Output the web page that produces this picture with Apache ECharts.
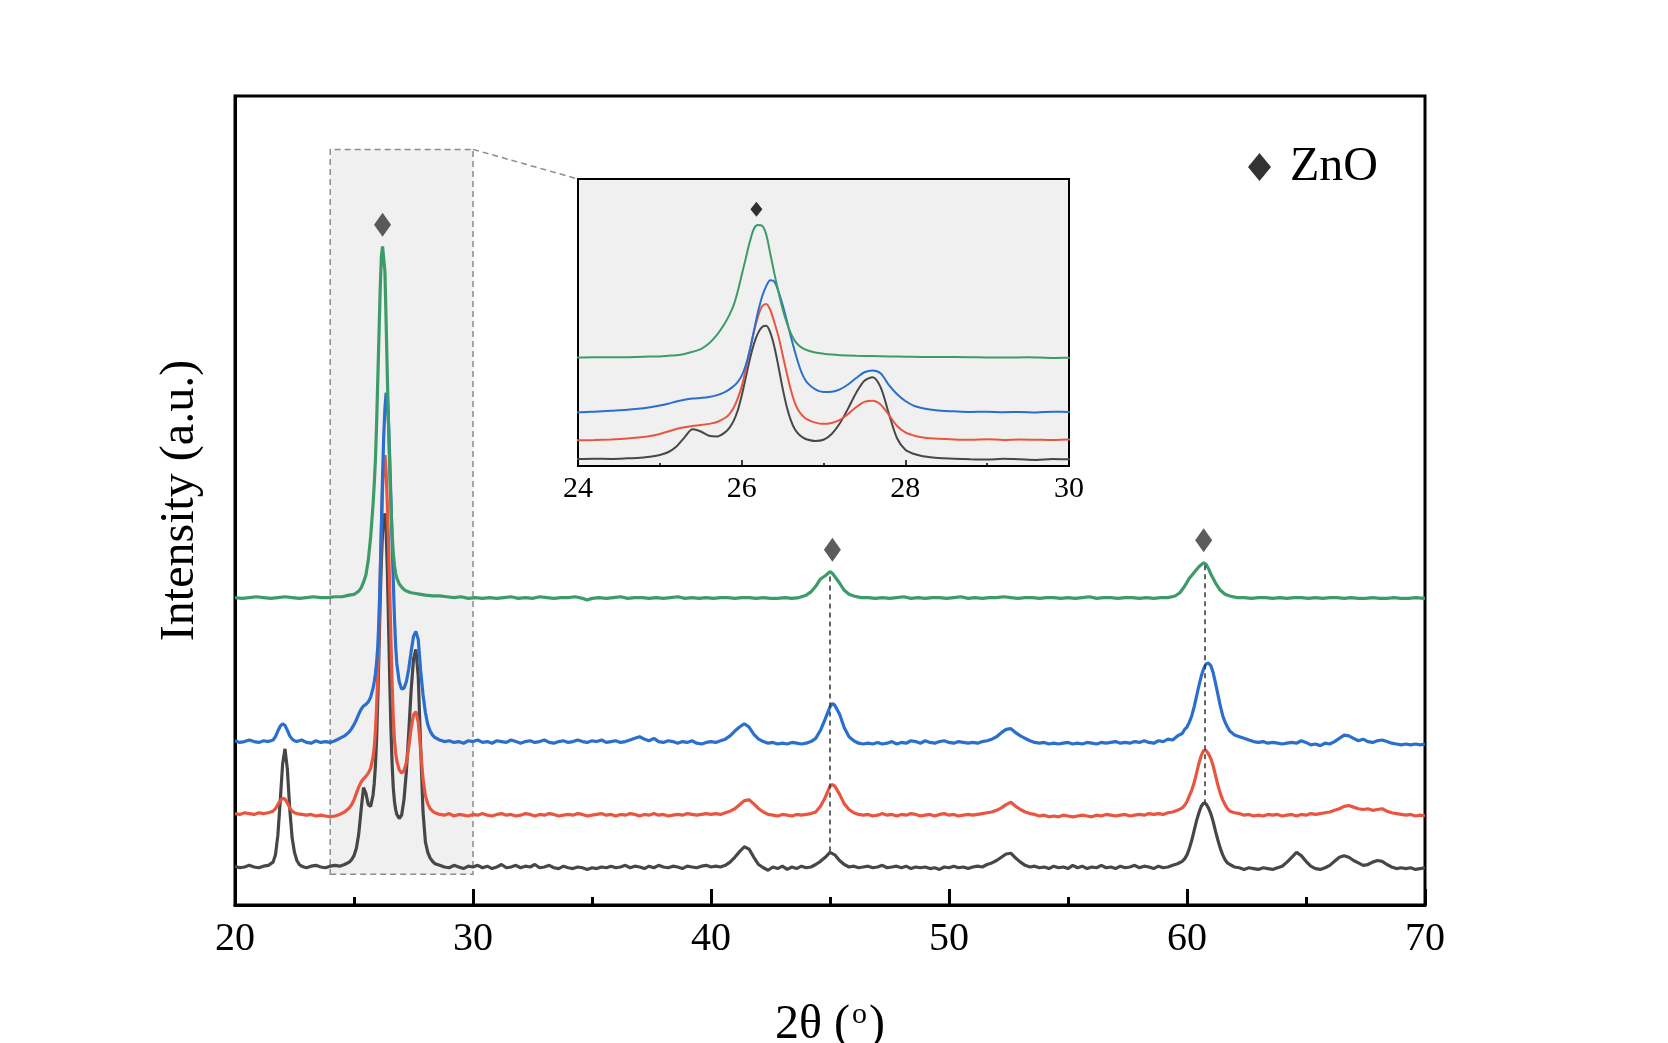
<!DOCTYPE html>
<html><head><meta charset="utf-8">
<script src="https://cdn.jsdelivr.net/npm/echarts@6/dist/echarts.min.js"></script>
<style>html,body{margin:0;padding:0;background:#fff}#c{width:1668px;height:1043px}</style>
</head><body><div id="c"></div>
<script>
// ---------- data (2θ in degrees, intensity in arbitrary units incl. stacking offset) ----------
const xTicks = [20, 30, 40, 50, 60, 70];
const insetTicks = [24, 26, 28, 30];
const boxX = [24, 30];
const boxY = [3.8, 93.4];
const insetY = [2.5, 96.5];
const znoMain = [[26.2, 84.1], [45.1, 43.9], [60.7, 45.1]];
const znoInset = [[26.18, 86.6]];
const guideX = [45.0, 60.75];
const guideTop = [40.6, 42.0];
const guideBottom = [6.4, 12.6];

const green = [[20.0,38.0],[20.3,37.9],[20.6,38.0],[20.9,38.1],[21.2,38.0],[21.5,37.9],[21.8,38.0],[22.1,38.1],[22.4,38.0],[22.7,37.9],[23.0,38.0],[23.3,38.1],[23.6,38.0],[23.9,38.0],[24.2,38.1],[24.5,38.1],[24.8,38.3],[25.0,38.4],[25.1,38.6],[25.2,38.8],[25.3,39.2],[25.4,39.9],[25.5,40.8],[25.6,42.6],[25.7,45.5],[25.8,49.5],[25.85,52.0],[25.9,55.0],[25.95,59.5],[26.0,65.0],[26.05,70.5],[26.1,76.0],[26.15,80.2],[26.2,81.4],[26.25,81.2],[26.3,78.3],[26.35,72.0],[26.4,65.5],[26.45,59.5],[26.5,54.0],[26.55,49.5],[26.6,46.0],[26.65,43.5],[26.7,42.0],[26.75,41.0],[26.8,40.4],[26.9,39.7],[27.0,39.3],[27.1,39.0],[27.2,38.8],[27.4,38.6],[27.6,38.5],[27.8,38.4],[28.0,38.3],[28.3,38.2],[28.6,38.2],[28.9,38.1],[29.2,38.0],[29.5,38.1],[29.8,37.9],[30.1,38.0],
[30.4,37.9],[30.7,38.0],[31.0,37.9],[31.3,38.0],[31.6,38.1],[31.9,37.9],[32.2,38.0],[32.5,37.9],[32.8,38.1],[33.1,38.0],[33.4,37.9],[33.7,38.0],[34.0,38.0],[34.3,38.1],[34.6,37.9],[34.8,37.7],[35.0,37.9],[35.3,38.0],[35.6,37.9],[35.9,38.0],[36.2,38.1],[36.5,37.9],[36.8,38.0],[37.1,38.0],[37.4,37.9],[37.7,38.0],[38.0,37.9],[38.3,38.0],[38.6,38.1],[38.9,37.9],[39.2,38.0],[39.5,37.9],[39.8,38.0],[40.1,37.9],[40.4,38.0],[40.7,38.0],[41.0,37.9],[41.3,38.0],[41.6,38.0],[41.9,37.9],[42.2,38.0],[42.5,37.9],[42.8,37.9],[43.1,38.0],[43.4,37.9],[43.7,38.0],[44.0,38.3],[44.2,38.7],[44.4,39.4],[44.6,40.3],[44.8,40.7],[45.0,41.2],[45.1,41.0],[45.2,40.6],[45.4,39.8],[45.6,38.9],[45.8,38.4],[46.0,38.2],[46.3,38.0],[46.6,38.0],[46.9,37.9],[47.2,38.0],[47.5,37.9],[47.8,38.0],[48.1,38.1],[48.4,37.9],[48.7,38.0],[49.0,37.9],[49.3,38.0],[49.6,38.0],[49.9,37.9],[50.2,38.0],[50.5,38.1],[50.8,37.9],[51.1,38.0],[51.4,37.9],[51.7,38.0],[52.0,38.0],[52.3,38.1],[52.6,38.0],[52.9,37.9],[53.2,38.0],[53.5,38.0],[53.8,37.9],[54.1,38.0],[54.4,38.0],[54.7,37.9],[55.0,38.0],[55.3,37.9],[55.6,38.0],[55.9,38.1],[56.2,37.9],[56.5,38.0],[56.8,38.0],[57.1,37.9],[57.4,38.0],[57.7,38.0],[58.0,37.9],[58.3,38.0],[58.6,37.9],[58.9,38.0],[59.2,38.0],[59.5,38.2],[59.7,38.6],[59.9,39.4],[60.1,40.4],[60.3,41.1],[60.5,41.8],[60.7,42.3],[60.8,42.1],[60.9,41.6],[61.0,40.9],[61.2,39.8],[61.4,38.9],[61.6,38.4],[61.8,38.2],[62.1,38.0],[62.4,38.0],[62.7,37.9],[63.0,38.0],[63.3,38.0],[63.6,37.9],[63.9,38.0],[64.2,37.9],[64.5,38.0],[64.8,38.0],[65.1,37.9],[65.4,38.0],[65.7,37.9],[66.0,38.0],[66.3,38.0],[66.6,37.9],[66.9,38.0],[67.2,37.9],[67.5,37.9],[67.8,38.0],[68.1,37.9],[68.4,37.9],[68.7,38.0],[69.0,37.9],[69.3,37.9],[69.6,38.0],[70.0,37.9]];

const blue = [[20.0,20.3],[20.2,20.1],[20.4,20.2],[20.6,20.4],[20.8,20.2],[21.0,20.1],[21.2,20.3],[21.4,20.2],[21.6,20.4],[21.7,20.8],[21.8,21.5],[21.9,22.1],[22.0,22.4],[22.1,22.2],[22.2,21.6],[22.3,20.9],[22.4,20.5],[22.5,20.3],[22.6,20.2],[22.8,20.4],[23.0,20.1],[23.2,20.0],[23.4,20.3],[23.6,20.1],[23.8,20.2],[24.0,20.1],[24.2,20.3],[24.4,20.6],[24.6,20.9],[24.8,21.4],[24.9,21.8],[25.0,22.3],[25.1,22.9],[25.2,23.6],[25.3,24.2],[25.4,24.6],[25.5,24.8],[25.6,25.1],[25.7,25.7],[25.8,26.8],[25.85,27.6],[25.9,28.6],[25.95,30.0],[26.0,32.0],[26.05,35.5],[26.1,40.5],[26.15,46.8],[26.2,53.0],[26.25,58.0],[26.3,61.4],[26.35,63.3],[26.4,62.9],[26.45,59.6],[26.5,55.3],[26.55,50.3],[26.6,45.0],[26.65,40.0],[26.7,35.5],[26.75,32.0],[26.8,29.8],[26.9,27.6],[27.0,26.7],[27.1,26.8],[27.2,27.6],[27.3,29.2],[27.4,31.3],[27.5,33.2],[27.6,33.8],[27.7,32.8],[27.8,29.0],[27.9,26.0],[28.0,23.8],[28.1,22.3],[28.2,21.5],[28.3,21.0],[28.4,20.7],
[28.6,20.4],[28.8,20.2],[29.0,20.3],[29.2,20.1],[29.4,20.2],[29.6,20.0],[29.8,20.3],[30.0,20.2],[30.2,20.4],[30.4,20.1],[30.6,20.2],[30.8,20.0],[31.0,20.3],[31.2,20.2],[31.4,20.1],[31.6,20.4],[31.8,20.2],[32.0,20.0],[32.2,20.2],[32.4,20.3],[32.6,20.1],[32.8,20.2],[33.0,20.4],[33.2,20.1],[33.4,20.0],[33.6,20.2],[33.8,20.3],[34.0,20.1],[34.2,20.2],[34.4,20.4],[34.6,20.2],[34.8,20.1],[35.0,20.3],[35.2,20.2],[35.4,20.4],[35.6,20.1],[35.8,20.2],[36.0,20.3],[36.2,20.1],[36.4,20.2],[36.6,20.4],[36.8,20.6],[37.0,20.8],[37.2,20.5],[37.4,20.3],[37.6,20.6],[37.8,20.2],[38.0,20.1],[38.2,20.3],[38.4,20.2],[38.6,20.0],[38.8,20.2],[39.0,20.1],[39.2,20.3],[39.4,20.0],[39.6,19.9],[39.8,20.1],[40.0,20.2],[40.2,20.1],[40.4,20.3],[40.6,20.5],[40.8,20.9],[41.0,21.5],[41.2,22.0],[41.4,22.4],[41.6,22.0],[41.8,21.1],[42.0,20.5],[42.2,20.2],[42.4,20.0],[42.6,20.1],[42.8,19.9],[43.0,20.0],[43.2,19.9],[43.4,20.1],[43.6,20.0],[43.8,19.9],[44.0,20.0],[44.2,20.2],[44.4,20.6],[44.6,21.6],[44.8,23.0],[45.0,24.5],[45.1,24.9],[45.2,24.7],[45.4,23.6],[45.6,21.9],[45.8,20.8],[46.0,20.3],[46.2,20.0],[46.4,19.9],[46.6,20.0],[46.8,19.9],[47.0,20.1],[47.2,19.9],[47.4,20.0],[47.6,20.2],[47.8,19.9],[48.0,20.1],[48.2,20.0],[48.4,20.3],[48.6,20.2],[48.8,20.0],[49.0,20.3],[49.2,20.1],[49.4,20.0],[49.6,20.2],[49.8,20.3],[50.0,20.1],[50.2,20.0],[50.4,20.2],[50.6,20.1],[50.8,20.0],[51.0,20.1],[51.2,20.0],[51.4,20.2],[51.6,20.3],[51.8,20.5],[52.0,20.8],[52.2,21.3],[52.4,21.7],[52.6,21.8],[52.8,21.3],[53.0,20.9],[53.2,20.6],[53.4,20.3],[53.6,20.1],[53.8,20.0],[54.0,20.1],[54.2,19.9],[54.4,20.0],[54.6,19.9],[54.8,20.0],[55.0,20.1],[55.2,19.9],[55.4,20.0],[55.6,19.9],[55.8,20.1],[56.0,20.0],[56.2,19.9],[56.4,20.1],[56.6,20.0],[56.8,20.1],[57.0,20.2],[57.2,20.0],[57.4,20.1],[57.6,20.0],[57.8,20.2],[58.0,20.1],[58.2,20.3],[58.4,20.1],[58.6,20.0],[58.8,20.3],[59.0,20.2],[59.2,20.5],[59.4,20.4],[59.6,20.9],[59.8,21.2],[59.9,21.7],[60.0,22.0],[60.1,22.6],[60.2,23.4],[60.3,24.5],[60.4,25.8],[60.5,27.1],[60.6,28.3],[60.7,29.2],[60.8,29.8],[60.9,29.9],[61.0,29.6],[61.1,28.7],[61.2,27.4],[61.3,26.0],[61.4,24.6],[61.5,23.4],[61.6,22.6],[61.7,22.0],[61.8,21.5],[62.0,21.0],[62.2,20.8],[62.4,20.6],[62.6,20.4],[62.8,20.2],[63.0,20.1],[63.2,20.2],[63.4,20.0],[63.6,20.1],[63.8,20.0],[64.0,19.9],[64.2,20.0],[64.4,20.1],[64.6,20.0],[64.8,20.3],[65.0,20.1],[65.2,19.8],[65.4,19.9],[65.6,19.7],[65.8,20.0],[66.0,19.9],[66.2,20.2],[66.4,20.6],[66.6,21.0],[66.8,20.9],[67.0,20.6],[67.2,20.3],[67.4,20.5],[67.6,20.2],[67.8,20.1],[68.0,20.3],[68.2,20.4],[68.4,20.2],[68.6,20.0],[68.8,19.9],[69.0,19.8],[69.2,19.9],[69.4,19.8],[69.6,19.9],[69.8,19.8],[70.0,19.9]];

const red = [[20.0,11.3],[20.2,11.2],[20.4,11.4],[20.6,11.3],[20.8,11.2],[21.0,11.4],[21.2,11.3],[21.4,11.4],[21.6,11.6],[21.7,11.9],[21.8,12.4],[21.9,12.9],[22.0,13.2],[22.1,13.1],[22.2,12.6],[22.3,12.0],[22.4,11.6],[22.5,11.4],[22.6,11.3],[22.8,11.2],[23.0,11.1],[23.2,11.2],[23.4,11.0],[23.6,11.1],[23.8,11.0],[24.0,10.9],[24.2,11.0],[24.4,11.2],[24.6,11.5],[24.8,12.0],[24.9,12.4],[25.0,13.0],[25.1,13.8],[25.2,14.6],[25.3,15.2],[25.4,15.6],[25.5,15.9],[25.6,16.3],[25.7,16.9],[25.8,18.3],[25.85,19.5],[25.9,21.5],[25.95,24.5],[26.0,28.5],[26.05,34.0],[26.1,40.5],[26.15,46.5],[26.2,51.5],[26.25,54.8],[26.3,55.6],[26.35,53.6],[26.4,49.5],[26.45,44.9],[26.5,39.0],[26.55,33.0],[26.6,27.5],[26.65,23.2],[26.7,20.4],[26.75,18.8],[26.8,17.8],[26.9,16.7],[27.0,16.3],[27.1,16.6],[27.2,17.6],[27.3,19.5],[27.4,21.8],[27.5,23.5],[27.6,23.9],[27.7,22.6],[27.8,19.2],[27.9,15.6],[28.0,13.5],[28.1,12.5],[28.2,11.9],[28.3,11.6],[28.4,11.4],
[28.6,11.2],[28.8,11.1],[29.0,11.3],[29.2,11.0],[29.4,11.2],[29.6,11.1],[29.8,11.0],[30.0,11.2],[30.2,11.1],[30.4,11.3],[30.6,11.1],[30.8,11.0],[31.0,11.2],[31.2,11.3],[31.4,11.1],[31.6,11.2],[31.8,11.0],[32.0,11.1],[32.2,11.3],[32.4,11.2],[32.6,11.0],[32.8,11.2],[33.0,11.1],[33.2,11.3],[33.4,11.2],[33.6,11.0],[33.8,11.1],[34.0,11.2],[34.2,11.1],[34.4,11.3],[34.6,11.2],[34.8,11.0],[35.0,11.1],[35.2,11.2],[35.4,11.3],[35.6,11.1],[35.8,11.2],[36.0,11.0],[36.2,11.2],[36.4,11.1],[36.6,11.3],[36.8,11.2],[37.0,11.0],[37.2,11.2],[37.4,11.1],[37.6,11.3],[37.8,11.1],[38.0,11.2],[38.2,11.0],[38.4,11.1],[38.6,11.2],[38.8,11.1],[39.0,11.3],[39.2,11.2],[39.4,11.1],[39.6,11.2],[39.8,11.3],[40.0,11.2],[40.2,11.3],[40.4,11.2],[40.6,11.4],[40.8,11.6],[41.0,11.9],[41.2,12.4],[41.4,12.9],[41.6,13.0],[41.8,12.5],[42.0,11.9],[42.2,11.5],[42.4,11.2],[42.6,11.1],[42.8,11.0],[43.0,11.2],[43.2,11.1],[43.4,11.0],[43.6,11.2],[43.8,11.1],[44.0,11.2],[44.2,11.3],[44.4,11.5],[44.6,12.2],[44.8,13.3],[45.0,14.7],[45.1,14.9],[45.2,14.7],[45.4,13.7],[45.6,12.5],[45.8,11.8],[46.0,11.4],[46.2,11.2],[46.4,11.1],[46.6,11.2],[46.8,11.0],[47.0,11.1],[47.2,11.3],[47.4,11.1],[47.6,11.2],[47.8,11.0],[48.0,11.2],[48.2,11.1],[48.4,11.3],[48.6,11.2],[48.8,11.0],[49.0,11.1],[49.2,11.2],[49.4,11.0],[49.6,11.2],[49.8,11.3],[50.0,11.1],[50.2,11.2],[50.4,11.0],[50.6,11.1],[50.8,11.2],[51.0,11.1],[51.2,11.2],[51.4,11.3],[51.6,11.4],[51.8,11.5],[52.0,11.7],[52.2,12.0],[52.4,12.4],[52.6,12.7],[52.8,12.2],[53.0,11.8],[53.2,11.5],[53.4,11.3],[53.6,11.2],[53.8,11.0],[54.0,11.1],[54.2,10.9],[54.4,11.0],[54.6,10.9],[54.8,11.1],[55.0,11.0],[55.2,10.9],[55.4,11.0],[55.6,11.1],[55.8,11.0],[56.0,10.9],[56.2,11.1],[56.4,11.0],[56.6,11.2],[56.8,11.1],[57.0,11.0],[57.2,11.1],[57.4,11.2],[57.6,11.0],[57.8,11.1],[58.0,11.2],[58.2,11.1],[58.4,11.3],[58.6,11.2],[58.8,11.3],[59.0,11.2],[59.2,11.4],[59.4,11.5],[59.6,11.7],[59.8,12.0],[59.9,12.3],[60.0,12.8],[60.1,13.5],[60.2,14.2],[60.3,15.1],[60.4,16.3],[60.5,17.5],[60.6,18.5],[60.7,19.1],[60.8,19.1],[60.9,18.7],[61.0,18.1],[61.1,17.2],[61.2,16.0],[61.3,14.8],[61.4,13.8],[61.5,13.0],[61.6,12.4],[61.7,11.9],[61.8,11.6],[62.0,11.4],[62.2,11.3],[62.4,11.1],[62.6,11.2],[62.8,11.0],[63.0,11.1],[63.2,11.0],[63.4,11.2],[63.6,11.1],[63.8,11.2],[64.0,11.0],[64.2,11.1],[64.4,11.2],[64.6,11.0],[64.8,11.2],[65.0,11.1],[65.2,11.3],[65.4,11.2],[65.6,11.3],[65.8,11.4],[66.0,11.5],[66.2,11.7],[66.4,11.9],[66.6,12.2],[66.8,12.3],[67.0,12.1],[67.2,11.9],[67.4,11.8],[67.6,11.9],[67.8,11.7],[68.0,11.8],[68.2,11.9],[68.4,11.6],[68.6,11.4],[68.8,11.3],[69.0,11.2],[69.2,11.1],[69.4,11.2],[69.6,11.0],[69.8,11.1],[70.0,11.0]];

const black = [[20.0,4.8],[20.2,4.6],[20.4,4.7],[20.6,4.9],[20.8,4.7],[21.0,4.6],[21.2,4.8],[21.4,4.9],[21.6,5.3],[21.7,6.2],[21.8,8.6],[21.9,12.8],[22.0,17.4],[22.1,19.3],[22.2,16.8],[22.3,11.9],[22.4,8.3],[22.5,6.5],[22.6,5.5],[22.7,5.0],[22.8,4.8],[23.0,4.6],[23.2,4.8],[23.4,4.9],[23.6,4.7],[23.8,4.6],[24.0,4.8],[24.2,4.9],[24.4,4.8],[24.6,5.0],[24.8,5.3],[24.9,5.6],[25.0,6.1],[25.1,7.0],[25.2,8.8],[25.3,11.8],[25.4,14.5],[25.5,13.8],[25.6,12.4],[25.7,12.2],[25.8,13.6],[25.85,15.0],[25.9,17.2],[25.95,20.5],[26.0,25.5],[26.05,31.5],[26.1,37.5],[26.15,42.5],[26.2,46.0],[26.25,48.0],[26.3,48.4],[26.35,46.2],[26.4,41.5],[26.45,35.0],[26.5,28.0],[26.55,22.0],[26.6,17.5],[26.65,14.5],[26.7,12.8],[26.75,11.8],[26.8,11.2],[26.9,10.7],[27.0,11.1],[27.1,13.0],[27.2,16.5],[27.3,21.3],[27.4,26.5],[27.5,30.4],[27.6,31.6],[27.7,28.2],[27.8,19.5],[27.9,11.5],[28.0,7.8],[28.1,6.5],[28.2,5.8],[28.3,5.4],[28.4,5.1],
[28.6,4.9],[28.8,4.7],[29.0,4.6],[29.2,4.9],[29.4,4.7],[29.6,4.5],[29.8,4.8],[30.0,4.7],[30.2,4.9],[30.4,4.6],[30.6,4.8],[30.8,4.5],[31.0,4.7],[31.2,5.0],[31.4,4.6],[31.6,4.7],[31.8,4.9],[32.0,4.6],[32.2,4.8],[32.4,4.7],[32.6,5.0],[32.8,4.6],[33.0,4.7],[33.2,4.9],[33.4,4.6],[33.6,4.5],[33.8,4.8],[34.0,4.6],[34.2,4.5],[34.4,4.7],[34.6,4.6],[34.8,4.4],[35.0,4.6],[35.2,4.5],[35.4,4.7],[35.6,4.6],[35.8,4.8],[36.0,4.6],[36.2,4.7],[36.4,4.9],[36.6,4.6],[36.8,4.8],[37.0,4.7],[37.2,4.5],[37.4,4.8],[37.6,4.6],[37.8,4.9],[38.0,4.7],[38.2,4.6],[38.4,4.8],[38.6,4.7],[38.8,4.5],[39.0,4.8],[39.2,4.7],[39.4,4.6],[39.6,4.8],[39.8,4.9],[40.0,4.7],[40.2,4.8],[40.4,4.7],[40.6,4.9],[40.8,5.3],[41.0,5.9],[41.2,6.6],[41.4,7.2],[41.6,6.9],[41.8,5.9],[42.0,5.0],[42.2,4.6],[42.4,4.3],[42.6,4.7],[42.8,4.5],[43.0,4.8],[43.2,4.4],[43.4,4.7],[43.6,4.5],[43.8,4.8],[44.0,4.6],[44.2,4.7],[44.4,5.0],[44.6,5.4],[44.8,5.9],[45.0,6.5],[45.2,6.2],[45.4,5.5],[45.6,5.0],[45.8,4.7],[46.0,4.8],[46.2,4.6],[46.4,4.7],[46.6,4.8],[46.8,4.6],[47.0,4.7],[47.2,4.9],[47.4,4.6],[47.6,4.7],[47.8,4.8],[48.0,4.6],[48.2,4.8],[48.4,4.5],[48.6,4.7],[48.8,4.6],[49.0,4.7],[49.2,4.5],[49.4,4.6],[49.6,4.4],[49.8,4.7],[50.0,4.6],[50.2,4.8],[50.4,4.6],[50.6,4.7],[50.8,4.5],[51.0,4.7],[51.2,4.8],[51.4,4.7],[51.6,5.0],[51.8,5.2],[52.0,5.5],[52.2,5.9],[52.4,6.3],[52.6,6.4],[52.8,5.8],[53.0,5.3],[53.2,4.9],[53.4,4.7],[53.6,4.8],[53.8,4.6],[54.0,4.7],[54.2,4.5],[54.4,4.8],[54.6,4.6],[54.8,4.7],[55.0,4.5],[55.2,4.9],[55.4,4.6],[55.6,4.8],[55.8,4.5],[56.0,4.7],[56.2,4.6],[56.4,4.9],[56.6,4.6],[56.8,4.7],[57.0,4.5],[57.2,4.8],[57.4,4.6],[57.6,4.7],[57.8,4.9],[58.0,4.6],[58.2,4.8],[58.4,4.7],[58.6,4.5],[58.8,4.8],[59.0,4.6],[59.2,4.7],[59.4,4.9],[59.6,5.1],[59.8,5.4],[59.9,5.7],[60.0,6.2],[60.1,7.0],[60.2,8.0],[60.3,9.2],[60.4,10.4],[60.5,11.4],[60.6,12.2],[60.7,12.6],[60.8,12.5],[60.9,12.0],[61.0,11.3],[61.1,10.3],[61.2,9.1],[61.3,8.0],[61.4,7.0],[61.5,6.2],[61.6,5.6],[61.7,5.2],[61.8,5.0],[62.0,4.7],[62.2,4.6],[62.4,4.4],[62.6,4.6],[62.8,4.5],[63.0,4.4],[63.2,4.6],[63.4,4.5],[63.6,4.4],[63.8,4.6],[64.0,4.8],[64.2,5.3],[64.4,5.9],[64.6,6.5],[64.8,6.1],[65.0,5.4],[65.2,4.8],[65.4,4.5],[65.6,4.4],[65.8,4.6],[66.0,4.9],[66.2,5.4],[66.4,5.9],[66.6,6.1],[66.8,5.9],[67.0,5.5],[67.2,5.2],[67.4,4.9],[67.6,5.0],[67.8,5.3],[68.0,5.5],[68.2,5.4],[68.4,5.0],[68.6,4.7],[68.8,4.5],[69.0,4.6],[69.2,4.5],[69.4,4.6],[69.6,4.4],[69.8,4.5],[70.0,4.6]];

// ---------- styling / layout ----------
const FONT = 'Liberation Serif';
const COL = { black: '#474747', red: '#e85541', blue: '#2a6fcd', green: '#3c9b69' };
const MAIN = { left: 235, top: 96, right: 243, bottom: 138 };
const INSET = { left: 578, top: 179, width: 491, height: 287 };

const chart = echarts.init(document.getElementById('c'), null, { renderer: 'canvas' });

function mainLine(name, data, color) {
  return { type: 'line', name, data, xAxisIndex: 0, yAxisIndex: 0, symbol: 'none', showSymbol: false,
           lineStyle: { color, width: 3.2 }, z: 4, silent: true, animation: false };
}
function insetLine(name, data, color) {
  return { type: 'line', name: name + '-inset', data, xAxisIndex: 1, yAxisIndex: 1, symbol: 'none', showSymbol: false,
           smooth: 0.3, clip: true, lineStyle: { color, width: 2 }, z: 4, silent: true, animation: false };
}

const option = {
  animation: false,
  backgroundColor: '#ffffff',
  textStyle: { fontFamily: FONT },
  grid: [
    { left: MAIN.left, top: MAIN.top, right: MAIN.right, bottom: MAIN.bottom, show: true,
      backgroundColor: 'transparent', borderColor: '#000', borderWidth: 3, containLabel: false, outerBoundsMode: 'none' },
    { left: INSET.left, top: INSET.top, width: INSET.width, height: INSET.height, show: true,
      backgroundColor: '#f0f0f0', borderColor: '#000', borderWidth: 2, containLabel: false, outerBoundsMode: 'none' }
  ],
  xAxis: [
    { type: 'value', gridIndex: 0, min: xTicks[0], max: xTicks[xTicks.length - 1], interval: 10,
      axisLine: { show: true, onZero: false, lineStyle: { color: '#000', width: 3 } },
      axisTick: { show: true, inside: true, length: 16, lineStyle: { color: '#000', width: 3 } },
      minorTick: { show: true, splitNumber: 2, length: 8, lineStyle: { color: '#000', width: 3 } },
      splitLine: { show: false }, minorSplitLine: { show: false },
      axisLabel: { fontFamily: FONT, fontSize: 40, color: '#000', margin: 14 },
      name: '2θ ({sup|o})', nameLocation: 'middle', nameGap: 95,
      nameTextStyle: { fontFamily: FONT, fontSize: 48, color: '#000',
        rich: { sup: { fontFamily: FONT, fontSize: 30, color: '#000', padding: [0, 2, 20, 2] } } } },
    { type: 'value', gridIndex: 1, min: insetTicks[0], max: insetTicks[insetTicks.length - 1], interval: 2,
      axisLine: { show: true, onZero: false, lineStyle: { color: '#000', width: 2 } },
      axisTick: { show: true, inside: true, length: 6, lineStyle: { color: '#000', width: 1.5 } },
      minorTick: { show: true, splitNumber: 2, length: 3, lineStyle: { color: '#000', width: 1.5 } },
      splitLine: { show: false }, minorSplitLine: { show: false },
      axisLabel: { fontFamily: FONT, fontSize: 30, color: '#000', margin: 8 } }
  ],
  yAxis: [
    { type: 'value', gridIndex: 0, min: 0, max: 100,
      axisLine: { show: true, onZero: false, lineStyle: { color: '#000', width: 3 } },
      axisTick: { show: false }, axisLabel: { show: false }, splitLine: { show: false },
      name: 'Intensity (a.u.)', nameLocation: 'middle', nameGap: 31, nameRotate: 90,
      nameTextStyle: { fontFamily: FONT, fontSize: 48, color: '#000' } },
    { type: 'value', gridIndex: 1, min: insetY[0], max: insetY[1],
      axisLine: { show: true, onZero: false, lineStyle: { color: '#000', width: 2 } },
      axisTick: { show: false }, axisLabel: { show: false }, splitLine: { show: false } }
  ],
  legend: {
    data: [{ name: 'ZnO', icon: 'diamond', itemStyle: { color: '#000' } }],
    left: 1243, top: 138, itemWidth: 23, itemHeight: 28, selectedMode: false,
    textStyle: { fontFamily: FONT, fontSize: 48, color: '#000', padding: [0, 0, 0, 14] }
  },
  series: [
    { type: 'line', name: 'box', data: [], xAxisIndex: 0, yAxisIndex: 0, z: 1, silent: true,
      markArea: { silent: true, label: { show: false },
        itemStyle: { color: '#f0f0f0', borderColor: '#8c8c8c', borderWidth: 1.5, borderType: [6, 4] },
        data: [[{ coord: [boxX[0], boxY[0]] }, { coord: [boxX[1], boxY[1]] }]] } },
    { type: 'line', name: 'guides', data: [], xAxisIndex: 0, yAxisIndex: 0, z: 2, silent: true,
      markLine: { silent: true, symbol: 'none', label: { show: false },
        lineStyle: { type: [5, 4], color: '#333', width: 1.5 },
        data: guideX.map((x, i) => [{ coord: [x, guideTop[i]] }, { coord: [x, guideBottom[i]] }]) } },
    mainLine('black', black, COL.black),
    mainLine('red', red, COL.red),
    mainLine('blue', blue, COL.blue),
    mainLine('green', green, COL.green),
    insetLine('black', black, COL.black),
    insetLine('red', red, COL.red),
    insetLine('blue', blue, COL.blue),
    insetLine('green', green, COL.green),
    { type: 'scatter', name: 'ZnO', data: znoMain, xAxisIndex: 0, yAxisIndex: 0, symbol: 'diamond',
      symbolSize: [17, 24], itemStyle: { color: '#333' }, z: 6, silent: true },
    { type: 'scatter', name: 'ZnO-inset', data: znoInset, xAxisIndex: 1, yAxisIndex: 1, symbol: 'diamond',
      symbolSize: [12, 15], itemStyle: { color: '#000' }, z: 6, silent: true }
  ]
};
chart.setOption(option);

// dashed connector from the zoom box corner to the inset's top-left corner
const p1 = chart.convertToPixel({ xAxisIndex: 0, yAxisIndex: 0 }, [boxX[1], boxY[1]]);
const p2 = chart.convertToPixel({ xAxisIndex: 1, yAxisIndex: 1 }, [insetTicks[0], insetY[1]]);
chart.setOption({
  graphic: [{ type: 'line', silent: true, z: 10,
    shape: { x1: p1[0], y1: p1[1], x2: p2[0], y2: p2[1] },
    style: { stroke: '#8c8c8c', lineWidth: 1.5, lineDash: [6, 4] } }]
});
</script></body></html>
